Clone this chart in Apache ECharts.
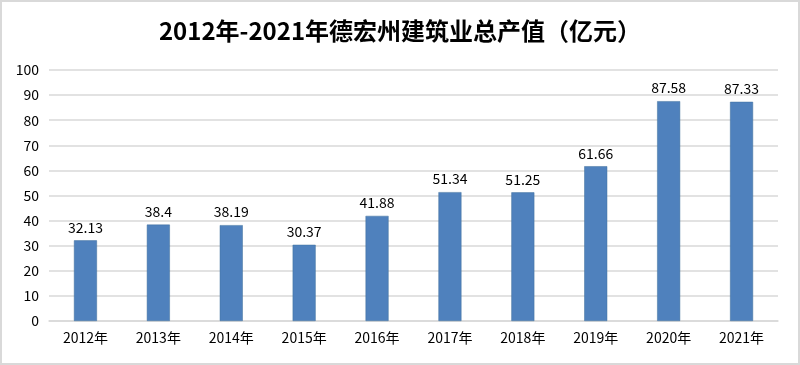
<!DOCTYPE html>
<html><head><meta charset="utf-8">
<script src="https://cdn.jsdelivr.net/npm/echarts@6/dist/echarts.min.js"></script>
<style>html,body{margin:0;padding:0;background:#fff}#c{width:800px;height:365px;box-sizing:border-box;border:2px solid #d9d9d9}</style>
</head><body><div id="c"></div>
<script>
const categories = ['2012年','2013年','2014年','2015年','2016年','2017年','2018年','2019年','2020年','2021年'];
const values = [32.13, 38.4, 38.19, 30.37, 41.88, 51.34, 51.25, 61.66, 87.58, 87.33];
const labels = ['32.13','38.4','38.19','30.37','41.88','51.34','51.25','61.66','87.58','87.33'];
const chart = echarts.init(document.getElementById('c'));
const font = '"Noto Sans CJK SC", "Open Sans", sans-serif';
chart.setOption({
  animation: false,
  title: {text: '2012年-2021年德宏州建筑业总产值（亿元）', left: 'center', top: 12,
    textStyle: {fontFamily: font, fontSize: 24, fontWeight: 'bold', color: '#000'}},
  grid: {left: 47, right: 20, top: 68, bottom: 42},
  xAxis: {type: 'category', data: categories,
    axisLine: {lineStyle: {color: '#d9d9d9', width: 1.5}}, axisTick: {show: false},
    axisLabel: {color: '#000', fontSize: 14, fontFamily: font, margin: 10}},
  yAxis: {type: 'value', min: 0, max: 100, interval: 10,
    axisLine: {show: false}, axisTick: {show: false},
    splitLine: {lineStyle: {color: '#d9d9d9', width: 1.5}},
    axisLabel: {color: '#000', fontSize: 14, fontFamily: font, margin: 10}},
  series: [{type: 'bar', data: values, barWidth: 23,
    itemStyle: {color: '#4f81bd', borderColor: '#41719c', borderWidth: 0.5},
    label: {show: true, position: 'top', distance: 6, color: '#000', fontSize: 14, fontFamily: font,
      formatter: p => labels[p.dataIndex]}}]
});
</script></body></html>
